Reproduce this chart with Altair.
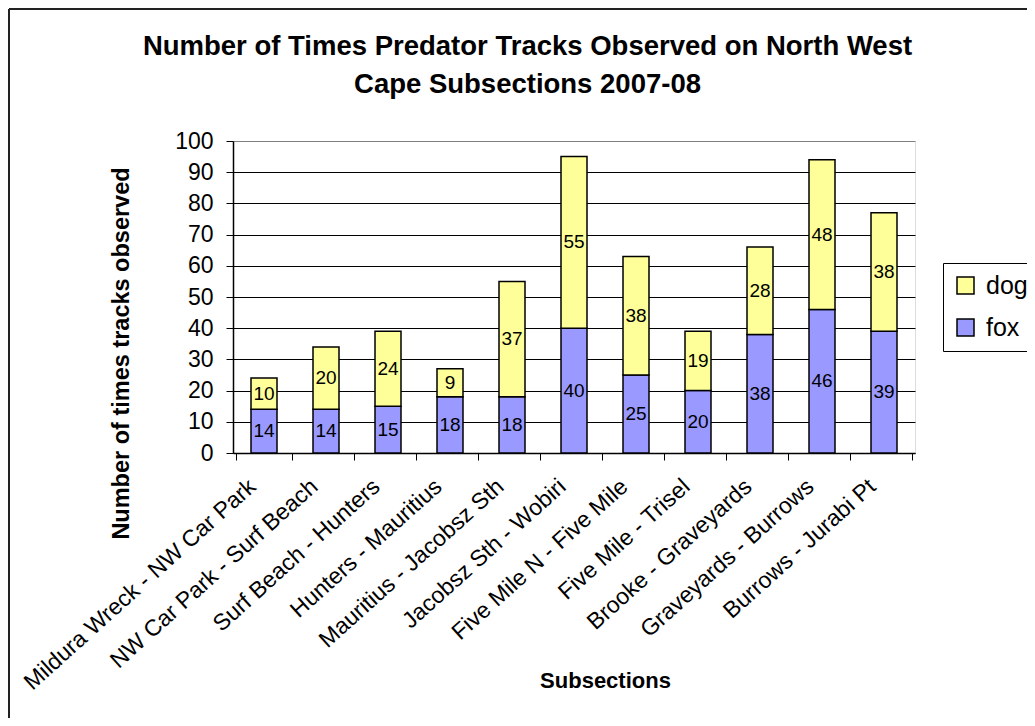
import altair as alt
import pandas as pd

segments = [
    "Mildura Wreck - NW Car Park",
    "NW Car Park - Surf Beach",
    "Surf Beach - Hunters",
    "Hunters - Mauritius",
    "Mauritius - Jacobsz Sth",
    "Jacobsz Sth - Wobiri",
    "Five Mile N - Five Mile",
    "Five Mile - Trisel",
    "Brooke - Graveyards",
    "Graveyards - Burrows",
    "Burrows - Jurabi Pt",
]
fox = [14, 14, 15, 18, 18, 40, 25, 20, 38, 46, 39]
dog = [10, 20, 24, 9, 37, 55, 38, 19, 28, 48, 38]
series = ["dog", "fox"]
series_colors = ["#FFFF99", "#9999FF"]
y_ticks = list(range(0, 101, 10))
title_lines = ["Number of Times Predator Tracks Observed on North West",
               "Cape Subsections 2007-08"]

rows = []
for s, f, d in zip(segments, fox, dog):
    rows.append({"seg": s, "animal": "fox", "count": f, "ord": 0})
    rows.append({"seg": s, "animal": "dog", "count": d, "ord": 1})
df = pd.DataFrame(rows)

FONT = "Liberation Sans, Arial, sans-serif"
W, H = 682, 312
PL, PT, PR, PB = 225, 133, 112, 265

base = alt.Chart(df).transform_stack(
    stack="count", groupby=["seg"],
    sort=[alt.SortField("ord", order="ascending")],
    as_=["y0", "y1"],
).transform_calculate(mid="(datum.y0 + datum.y1) / 2")

y_scale = alt.Scale(domain=[0, 100], nice=False)

x_axis = alt.Axis(
    labelAngle=318, labelAlign="right", labelBaseline="middle",
    labelFontSize=23, labelFont=FONT, labelColor="black",
    labelPadding=23, labelOffset=-12, tickBand="extent", tickSize=7,
    tickColor="black", domainColor="black", domainWidth=1.5,
    grid=False, labelOverlap=False, labelLimit=0,
    titleFontSize=22, titleFont=FONT, titleFontWeight="bold",
    titleColor="black", titleX=372, titleY=234,
    titleAlign="center", titleBaseline="alphabetic",
)
y_axis = alt.Axis(
    values=y_ticks, tickSize=7, tickColor="black",
    domainColor="black", domainWidth=1.5,
    labelFontSize=23, labelFont=FONT, labelColor="black",
    labelPadding=13, labelOverlap=False,
    grid=True,
    gridColor={"condition": {"test": "datum.value === 100", "value": "#808080"},
               "value": "black"},
    gridWidth=1,
    titleFontSize=23.5, titleFont=FONT, titleFontWeight="bold",
    titleColor="black", titleAngle=270, titleX=-112, titleY=212,
    titleAlign="center", titleBaseline="middle",
)
x_title = "Subsections"
y_title = "Number of times tracks observed"

bars = base.mark_bar(size=26, stroke="black", strokeWidth=1.5).encode(
    x=alt.X("seg:N", sort=segments, title=x_title, axis=x_axis),
    y=alt.Y("y0:Q", scale=y_scale, title=y_title, axis=y_axis),
    y2="y1:Q",
    color=alt.Color(
        "animal:N",
        scale=alt.Scale(domain=series, range=series_colors),
        legend=alt.Legend(
            title=None, orient="none", legendX=710, legendY=122,
            symbolType="square", symbolSize=289, symbolStrokeColor="black",
            symbolStrokeWidth=1.5, labelFontSize=25, labelFont=FONT,
            labelColor="black", labelOffset=8, rowPadding=16,
            padding=10, strokeColor="black", fillColor="white",
        ),
    ),
)

labels = base.mark_text(fontSize=19, font=FONT, color="black").encode(
    x=alt.X("seg:N", sort=segments, title=x_title, axis=x_axis),
    y=alt.Y("mid:Q", scale=y_scale, title=y_title, axis=y_axis),
    text=alt.Text("count:Q"),
)

one = pd.DataFrame({"k": [0]})
title_mark = alt.Chart(one).mark_text(
    font=FONT, fontSize=27.5, fontWeight="bold", color="black",
    align="center", baseline="alphabetic", lineHeight=38,
).encode(
    x=alt.value(294.5), y=alt.value(-86), text=alt.value(title_lines)
)

frame_top = alt.Chart(one).mark_rule(color="#222222", strokeWidth=2).encode(
    x=alt.value(-PL + 1), x2=alt.value(W + PR), y=alt.value(-PT + 1)
)
frame_left = alt.Chart(one).mark_rule(color="#222222", strokeWidth=2).encode(
    x=alt.value(-PL + 1), y=alt.value(-PT + 1), y2=alt.value(H + PB)
)

chart = alt.layer(bars, labels, title_mark, frame_top, frame_left).properties(
    width=W, height=H,
    padding={"left": PL, "top": PT, "right": PR, "bottom": PB},
    autosize=alt.AutoSizeParams(type="none"),
).configure_view(stroke="#808080", strokeWidth=1.5).configure(background="white")

chart.save("out.html", embed_options={"renderer": "svg", "actions": False})
